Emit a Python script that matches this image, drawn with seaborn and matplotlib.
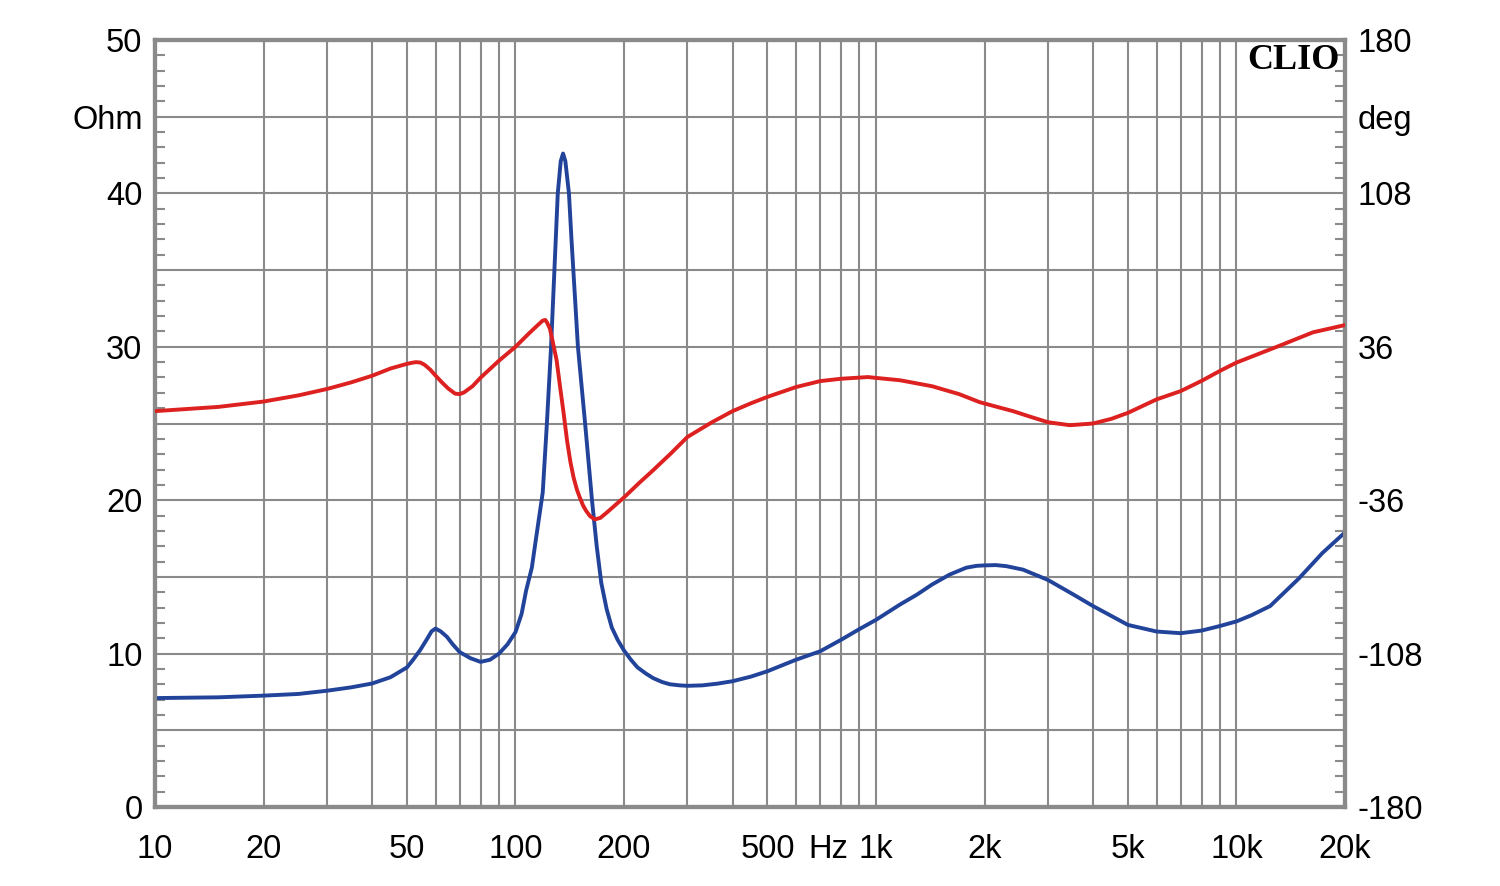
import matplotlib
matplotlib.use("Agg")
import matplotlib.pyplot as plt
import seaborn as sns
from matplotlib.ticker import FixedLocator, MultipleLocator, NullLocator

# ---- data ----
imp_freq = [10, 15, 20, 25, 30, 35, 40, 45, 50, 52, 54.5, 57, 58.5, 60, 62, 64.5, 67, 70, 75,
            80, 85, 90, 95, 100, 104, 107, 111, 114, 119, 122, 125.5, 131, 133.5, 135.5,
            137.5, 140.7, 143, 149, 156, 163, 168, 173, 179, 185, 192, 200, 209, 218, 230,
            241, 255, 268, 285, 300, 330, 363, 400, 450, 500, 600, 700, 800, 900, 1000, 1166,
            1300, 1430, 1600, 1780, 1900, 2000, 2150, 2300, 2560, 3000, 3500, 4000, 4500,
            5000, 6000, 7000, 8000, 9000, 10000, 11000, 12400, 14900, 17300, 20000]
imp_ohm = [7.1, 7.15, 7.26, 7.37, 7.58, 7.8, 8.05, 8.46, 9.1, 9.6, 10.26, 11.0, 11.45, 11.63,
           11.45, 11.1, 10.6, 10.1, 9.7, 9.46, 9.6, 10.0, 10.6, 11.4, 12.6, 14.1, 15.6, 17.5,
           20.5, 24.7, 30.0, 40.0, 42.1, 42.6, 42.1, 40.0, 37.0, 30.0, 25.0, 20.0, 17.0, 14.6,
           12.9, 11.7, 10.9, 10.2, 9.6, 9.1, 8.7, 8.4, 8.15, 8.0, 7.93, 7.9, 7.93, 8.04, 8.2,
           8.5, 8.85, 9.6, 10.15, 10.9, 11.6, 12.2, 13.2, 13.85, 14.5, 15.15, 15.6, 15.72,
           15.75, 15.77, 15.7, 15.47, 14.8, 13.9, 13.1, 12.45, 11.87, 11.44, 11.33, 11.5,
           11.8, 12.1, 12.5, 13.1, 14.9, 16.55, 17.9]

ph_freq = [10, 15, 20, 25, 30, 35, 40, 45, 50, 52, 53, 54.5, 56, 58, 60, 62.5, 65, 68, 70,
           72, 76, 80, 90, 100, 109, 115, 119, 121, 122.5, 124.6, 127, 130, 133, 136, 139,
           142, 145, 148, 151, 154, 157, 161, 166, 172, 180, 190, 200, 220, 241, 270, 300,
           350, 400, 450, 500, 600, 700, 800, 950, 1000, 1166, 1430, 1700, 1940, 2200, 2400,
           2700, 3000, 3450, 4000, 4500, 5000, 6000, 7000, 8000, 9000, 10000, 13300, 16300,
           20000]
ph_deg = [5.8, 7.8, 10.3, 13.2, 16.2, 19.3, 22.4, 25.8, 28.0, 28.6, 28.8, 28.6, 27.5, 25.3,
          22.5, 19.3, 16.5, 14.0, 13.8, 14.6, 17.5, 21.5, 29.5, 36.0, 42.3, 46.0, 48.3, 48.6,
          47.2, 44.5, 38.0, 29.8, 17.0, 4.8, -8.0, -18.0, -25.5, -31.0, -35.0, -38.5, -41.0,
          -43.5, -45.0, -44.3, -41.5, -38.0, -34.7, -28.0, -21.9, -14.0, -6.3, 0.5, 5.8, 9.5,
          12.5, 17.1, 19.9, 21.0, 21.8, 21.4, 20.3, 17.5, 13.8, 10.0, 7.5, 5.8, 3.0, 0.6,
          -0.8, 0.0, 2.2, 5.0, 11.3, 15.2, 20.0, 24.7, 28.6, 36.8, 42.8, 46.2]

x_label_pos = [10, 20, 50, 100, 200, 500, 1000, 2000, 5000, 10000, 20000]
x_labels = ["10", "20", "50", "100", "200", "500", "1k", "2k", "5k", "10k", "20k"]
ohm_ticks = [0, 10, 20, 30, 40, 45, 50]
ohm_labels = ["0", "10", "20", "30", "40", "Ohm", "50"]
deg_ticks = [-180, -108, -36, 36, 108, 144, 180]
deg_labels = ["-180", "-108", "-36", "36", "108", "deg", "180"]

# ---- styling ----
sns.set_style("white")
plt.rcParams['font.family'] = ['Liberation Sans', 'DejaVu Sans']
GRID = "#8a8a8a"
BLUE = "#22439a"
RED = "#dd2020"
FS = 23.5

fig = plt.figure(figsize=(15, 8.86), dpi=100)
ax = fig.add_axes([155/1500, 1-807/886, 1190/1500, 767/886])
ax2 = ax.twinx()

sns.lineplot(x=imp_freq, y=imp_ohm, ax=ax, color=BLUE, linewidth=2.8, zorder=3)
sns.lineplot(x=ph_freq, y=ph_deg, ax=ax2, color=RED, linewidth=2.8, zorder=3)

ax.set_xscale("log")
ax.set_xlim(10, 20000)
ax.set_ylim(0, 50)
ax2.set_ylim(-180, 180)

# x grid: every 1..9 multiple
grid_x = [m * 10**d for d in range(1, 5) for m in range(1, 10) if m * 10**d <= 20000]
ax.xaxis.set_major_locator(FixedLocator(grid_x))
ax.set_xticklabels([x_labels[x_label_pos.index(v)] if v in x_label_pos else "" for v in grid_x])
ax.xaxis.set_minor_locator(NullLocator())

# y grid every 5 ohm
ax.yaxis.set_major_locator(FixedLocator(list(range(0, 51, 5))))
ax.set_yticklabels([ohm_labels[ohm_ticks.index(v)] if v in ohm_ticks else "" for v in range(0, 51, 5)])
ax.yaxis.set_minor_locator(MultipleLocator(1))

ax.grid(True, which="major", color=GRID, linewidth=1.5)
ax.set_axisbelow(True)

ax.tick_params(axis="x", which="major", length=0, labelsize=FS, pad=19.5, colors="black")
ax.tick_params(axis="y", which="major", length=0, labelsize=FS, pad=9, colors="black")
ax.tick_params(axis="y", which="minor", left=True, right=True, direction="in",
               length=7, width=1.5, color=GRID)

ax2.set_yticks(deg_ticks)
ax2.set_yticklabels(deg_labels)
ax2.tick_params(axis="y", which="major", length=0, labelsize=FS, pad=9, colors="black")
ax2.yaxis.set_minor_locator(NullLocator())
ax2.grid(False)
ax.set_xlabel("")
ax.set_ylabel("")
ax2.set_ylabel("")

for a in (ax, ax2):
    for s in a.spines.values():
        s.set_color(GRID)
        s.set_linewidth(3)

# "Hz" next to the 500 label
ax.text((828-155)/1190, -43/767, "Hz", transform=ax.transAxes, ha="center", va="center",
        fontsize=FS, color="black")

# CLIO logo
ax.text(0.9955, 0.995, "CLIO", transform=ax.transAxes, ha="right", va="top",
        fontsize=26, fontweight="bold", family=["Liberation Serif", "DejaVu Serif"],
        color="black", zorder=5)

fig.savefig("out.png", dpi=100, facecolor="white")
